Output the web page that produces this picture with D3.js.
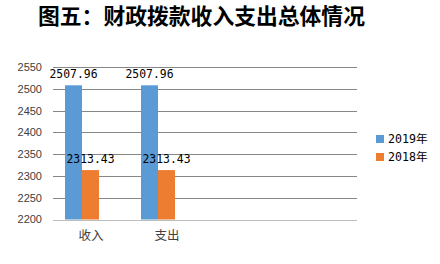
<!DOCTYPE html>
<html>
<head>
<meta charset="utf-8">
<script src="https://cdn.jsdelivr.net/npm/d3@7"></script>
<style>
  body { margin: 0; background: #fff; }
  svg { display: block; }
</style>
</head>
<body>
<div id="main"></div>
<script>
var title = "图五：财政拨款收入支出总体情况";
var categories = ["收入", "支出"];
var seriesNames = ["2019年", "2018年"];
var values2019 = [2507.96, 2507.96];
var values2018 = [2313.43, 2313.43];
var yTicks = [2200, 2250, 2300, 2350, 2400, 2450, 2500, 2550];
var colors = ["#5b9bd5", "#ed7d31"];

var w = 440, h = 264;
var plotLeft = 53, plotRight = 357, plotTop = 67, plotBottom = 219.5;
var step = 76;

var svg = d3.select("#main").append("svg")
  .attr("width", w)
  .attr("height", h);

svg.append("text")
  .attr("x", 38)
  .attr("y", 24)
  .attr("font-family", "'Noto Sans CJK SC'")
  .attr("font-weight", "bold")
  .attr("font-size", "21.8px")
  .attr("fill", "#000")
  .text(title);

var y = d3.scaleLinear().domain([2200, 2550]).range([plotBottom, plotTop]);

var x0 = d3.scaleBand().domain(categories).range([plotLeft, plotLeft + step * categories.length]);
var x1 = d3.scaleBand().domain(seriesNames).range([12, 46]);

// grid
svg.selectAll("line.grid")
  .data(yTicks)
  .enter().append("line")
  .attr("class", "grid")
  .attr("x1", plotLeft).attr("x2", plotRight)
  .attr("y1", function (d) { return Math.round(y(d)) + 0.5; })
  .attr("y2", function (d) { return Math.round(y(d)) + 0.5; })
  .attr("stroke", function (d) { return d === 2200 ? "#bfbfbf" : "#868686"; })
  .attr("stroke-width", 1);

svg.selectAll("text.ytick")
  .data(yTicks)
  .enter().append("text")
  .attr("class", "ytick")
  .attr("x", 42)
  .attr("y", function (d) { return y(d); })
  .attr("dy", "0.36em")
  .attr("text-anchor", "end")
  .attr("font-family", "'Liberation Sans'")
  .attr("font-size", "11px")
  .attr("fill", "#404040")
  .text(function (d) { return d; });

var rows = categories.map(function (c, i) {
  return { cat: c, vals: [values2019[i], values2018[i]] };
});

var groups = svg.selectAll("g.cat")
  .data(rows)
  .enter().append("g")
  .attr("class", "cat")
  .attr("transform", function (d) { return "translate(" + x0(d.cat) + ",0)"; });

groups.selectAll("rect")
  .data(function (d) { return d.vals.map(function (v, i) { return { s: seriesNames[i], v: v, i: i }; }); })
  .enter().append("rect")
  .attr("x", function (d) { return x1(d.s); })
  .attr("width", x1.bandwidth())
  .attr("y", function (d) { return y(d.v); })
  .attr("height", function (d) { return plotBottom - y(d.v); })
  .attr("fill", function (d) { return colors[d.i]; });

groups.selectAll("text.val")
  .data(function (d) { return d.vals.map(function (v, i) { return { s: seriesNames[i], v: v }; }); })
  .enter().append("text")
  .attr("class", "val")
  .attr("x", function (d) { return x1(d.s) + x1.bandwidth() / 2; })
  .attr("y", function (d) { return y(d.v) - 7; })
  .attr("text-anchor", "middle")
  .attr("font-family", "'DejaVu Sans Mono'")
  .attr("font-size", "11.4px")
  .attr("fill", "#000")
  .text(function (d) { return d3.format(".2f")(d.v); });

groups.append("text")
  .attr("x", x0.bandwidth() / 2)
  .attr("y", 239.5)
  .attr("text-anchor", "middle")
  .attr("font-family", "'Noto Sans CJK SC'")
  .attr("font-size", "12.5px")
  .attr("fill", "#404040")
  .text(function (d) { return d.cat; });

// legend
var legend = svg.selectAll("g.legend")
  .data(seriesNames)
  .enter().append("g")
  .attr("class", "legend")
  .attr("transform", function (d, i) { return "translate(376," + (135 + i * 18) + ")"; });

legend.append("rect")
  .attr("width", 8).attr("height", 8)
  .attr("fill", function (d, i) { return colors[i]; });

legend.append("text")
  .attr("x", 12)
  .attr("y", 4)
  .attr("dy", "0.36em")
  .attr("font-family", "'DejaVu Sans Mono', 'Noto Sans CJK SC'")
  .attr("font-size", "11.6px")
  .attr("fill", "#000")
  .text(function (d) { return d; });
</script>
</body>
</html>
